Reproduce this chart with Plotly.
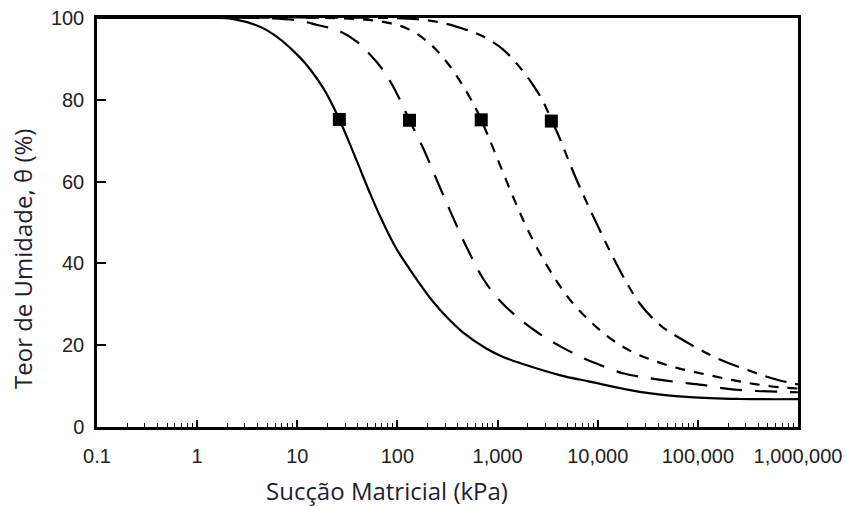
import plotly.graph_objects as go

# Curve 1 (solid)  x: suction (kPa), y: water content (%)
x1 = [0.1, 1, 2.24, 4.9, 10.5, 17.8, 26.3, 38.9, 54.6, 70.8, 97, 126, 166, 224, 307, 447, 771, 1122, 1791, 4169, 8318, 26303, 83176, 263027, 1000000]
y1 = [100, 100, 99.8, 97.1, 90.5, 83.2, 75.2, 65.3, 56.5, 50.3, 43.7, 39.4, 35.1, 30.8, 27, 23.2, 19.2, 17.2, 15.4, 12.7, 11.1, 8.6, 7.3, 6.85, 6.8]

# Curve 2 (long dash)
x2 = [0.1, 4, 10, 15.8, 25.1, 38.9, 50.1, 70.8, 87.1, 107, 132, 178, 251, 355, 501, 708, 1000, 1585, 2512, 4467, 7413, 10000, 17378, 31623, 61660, 109648, 199526, 398107, 691831, 1000000]
y2 = [100, 100, 99.4, 98.3, 97, 94.3, 91.8, 87.5, 84, 79.8, 75, 68.5, 60, 51.5, 43.5, 36.5, 31.5, 26.8, 23.1, 19.4, 16.7, 15.4, 13.2, 12, 11, 10.3, 9.3, 8.8, 8.6, 8.5]

# Curve 3 (short dash)
x3 = [0.1, 20, 66.1, 126, 209, 316, 447, 603, 687, 794, 1000, 1259, 1585, 1995, 2818, 3981, 5623, 7943, 11220, 15849, 22387, 35481, 63096, 117490, 208930, 371535, 660693, 1000000]
y3 = [100, 100, 99.2, 97.4, 93.8, 89, 83.6, 78, 75.1, 71.5, 65.5, 59.5, 53.7, 48.3, 41.3, 35.3, 30.3, 26.4, 23.1, 20.4, 18.3, 16.3, 14.4, 12.9, 11.6, 10.5, 9.7, 9.4]

# Curve 4 (long-short dash)
x4 = [0.1, 79.4, 158, 282, 490, 661, 871, 1122, 1585, 2239, 2818, 3443, 4169, 5248, 6607, 8710, 11482, 15136, 19953, 26303, 34674, 45709, 63096, 93325, 125893, 165959, 223872, 316228, 446684, 630957, 1000000]
y4 = [100, 100, 99.7, 98.8, 97.1, 95.9, 94.3, 92.4, 88.6, 83.8, 79.8, 75.2, 70.6, 64.5, 58.7, 52.3, 46.1, 40.2, 34.8, 30.2, 26.8, 24.2, 22, 19.6, 17.9, 16.5, 15.2, 13.9, 12.6, 11.5, 10.4]

# Markers (air-entry points)
xm = [26.3, 132, 687, 3443]
ym = [75.2, 75, 75.1, 74.8]

x_tickvals = [0.1, 1, 10, 100, 1000, 10000, 100000, 1000000]
x_ticktext = ["0.1", "1", "10", "100", "1,000", "10,000", "100,000", "1,000,000"]
y_tickvals = [0, 20, 40, 60, 80, 100]

fig = go.Figure()
lw = 2.2
sm = 1.0
fig.add_trace(go.Scatter(x=x1, y=y1, mode="lines", line=dict(color="black", width=lw, shape="spline", smoothing=sm)))
fig.add_trace(go.Scatter(x=x2, y=y2, mode="lines", line=dict(color="black", width=lw, shape="spline", smoothing=sm, dash="22px,13px")))
fig.add_trace(go.Scatter(x=x3, y=y3, mode="lines", line=dict(color="black", width=lw, shape="spline", smoothing=sm, dash="10px,9px")))
fig.add_trace(go.Scatter(x=x4, y=y4, mode="lines", line=dict(color="black", width=lw, shape="spline", smoothing=sm, dash="22px,9px,10px,9px")))
fig.add_trace(go.Scatter(x=xm, y=ym, mode="markers", marker=dict(symbol="square", size=13, color="black")))

tickfont = dict(family="Liberation Sans, Arial, sans-serif", size=20, color="#222222")
fig.update_layout(
    width=847, height=506,
    margin=dict(l=97, r=49, t=18, b=79),
    paper_bgcolor="white", plot_bgcolor="white",
    showlegend=False,
    xaxis=dict(type="log", range=[-1, 6], tickvals=x_tickvals, ticktext=x_ticktext,
               ticks="inside", ticklen=7, tickwidth=1.5, tickcolor="black",
               showline=True, linecolor="black", linewidth=2.5, mirror=True, automargin=False,
               showgrid=False, zeroline=False, tickfont=tickfont, ticklabelstandoff=9,
               minor=dict(ticks="inside", ticklen=4, tickwidth=1.2, tickcolor="black", dtick="D1", showgrid=False)),
    yaxis=dict(range=[0, 100], tickvals=y_tickvals, ticks="inside", ticklen=9, tickwidth=2,
               tickcolor="black", showline=True, linecolor="black", linewidth=2.5, mirror=True, automargin=False,
               showgrid=False, zeroline=False, tickfont=tickfont, ticklabelstandoff=6),
)
titlefont = dict(family="Open Sans, sans-serif", size=24, color="#1e1e30")
fig.add_annotation(text="Sucção Matricial (kPa)", xref="paper", yref="paper", x=(387-97)/701, y=-(490-427)/409,
                   showarrow=False, font=titlefont, xanchor="center", yanchor="middle")
fig.add_annotation(text="Teor de Umidade, θ (%)", xref="paper", yref="paper", x=-(97-22)/701, y=(427-259)/409,
                   showarrow=False, font=titlefont, textangle=-90, xanchor="center", yanchor="middle")

# remove the default 8px page margin so the figure fills the window exactly
fig.write_html("out.html", config={"displayModeBar": False},
               post_script="document.body.style.margin='0px';")
